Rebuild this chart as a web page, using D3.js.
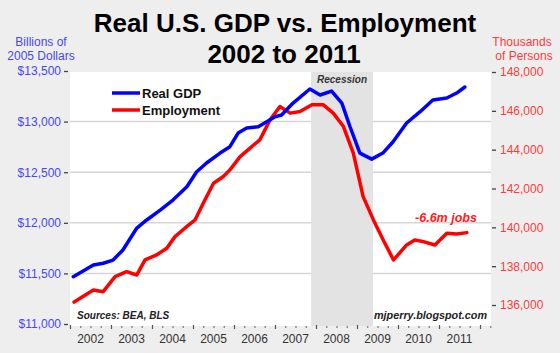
<!DOCTYPE html>
<html>
<head>
<meta charset="utf-8">
<script src="https://cdn.jsdelivr.net/npm/d3@7"></script>
<style>
  html, body { margin: 0; padding: 0; background: #eeeeee; }
  svg { display: block; font-family: "Liberation Sans", Arial, sans-serif; }
</style>
</head>
<body>
<svg id="chart" width="560" height="353"></svg>
<script>
// ---------- DATA ----------
const yearLabels = ["2002","2003","2004","2005","2006","2007","2008","2009","2010","2011"];
const leftTicks  = [11000, 11500, 12000, 12500, 13000, 13500];
const rightTicks = [136000, 138000, 140000, 142000, 144000, 146000, 148000];
const recession  = [2007.88, 2009.39];

const gdpDates = [2002.08,2002.57,2002.81,2003.05,2003.29,2003.63,2003.87,2004.20,2004.51,2004.85,
                  2005.09,2005.33,2005.66,2005.90,2006.10,2006.31,2006.59,2006.80,2007.00,2007.16,
                  2007.44,2007.85,2008.10,2008.38,2008.63,2008.83,2009.07,2009.36,2009.63,2009.88,
                  2010.21,2010.54,2010.85,2011.19,2011.43,2011.63];
const gdpValues = [11467,11583,11600,11632,11731,11948,12028,12126,12225,12357,
                   12505,12591,12689,12752,12887,12936,12949,12999,13048,13065,
                   13183,13322,13263,13302,13183,12949,12689,12629,12689,12801,
                   12986,13098,13213,13233,13282,13342];

const empDates = [2002.10,2002.57,2002.81,2003.10,2003.38,2003.63,2003.83,2004.11,2004.36,2004.56,
                  2004.80,2005.05,2005.25,2005.50,2005.74,2005.90,2006.15,2006.39,2006.63,2006.88,
                  2007.12,2007.37,2007.61,2007.90,2008.18,2008.42,2008.67,2008.91,2009.15,2009.40,
                  2009.64,2009.89,2010.21,2010.41,2010.62,2010.90,2011.19,2011.43,2011.68];
const empValues = [136150,136773,136686,137459,137717,137547,138320,138578,138923,139521,
                   139954,140382,141243,142274,142614,142959,143645,144078,144506,145537,
                   146222,145882,145964,146310,146310,145882,145191,143820,141583,140382,
                   139351,138320,139093,139351,139263,139093,139696,139660,139727];

const seriesNames = ["Real GDP", "Employment"];

// ---------- LAYOUT ----------
const svg = d3.select("#chart");
const plot = { left: 70, right: 491, top: 72, bottom: 326 };

const x  = d3.scaleLinear().domain([2002, 2002 + (plot.right - plot.left) / 41]).range([plot.left, plot.right]);
const yL = d3.scaleLinear().domain([11000, 13500]).range([324, 71]);
const yR = d3.scaleLinear().domain([136000, 148000]).range([305, 72]);

// background
svg.append("rect").attr("width", 560).attr("height", 353).attr("fill", "#eeeeee");
svg.append("rect").attr("x", plot.left).attr("y", plot.top)
   .attr("width", plot.right - plot.left).attr("height", plot.bottom - plot.top)
   .attr("fill", "#ffffff");

// gridlines
svg.append("g").selectAll("line").data(leftTicks.filter(d => d > 11000 && d < 13500)).join("line")
   .attr("x1", plot.left).attr("x2", plot.right)
   .attr("y1", d => yL(d)).attr("y2", d => yL(d))
   .attr("stroke", "#d6d6d6").attr("stroke-width", 1.5);

// recession band
svg.append("rect").attr("x", x(recession[0])).attr("y", plot.top)
   .attr("width", x(recession[1]) - x(recession[0])).attr("height", plot.bottom - plot.top)
   .attr("fill", "#e3e3e3");
svg.append("text").attr("x", (x(recession[0]) + x(recession[1])) / 2).attr("y", 83)
   .attr("text-anchor", "middle").attr("font-size", 10).attr("font-weight", "bold")
   .attr("font-style", "italic").attr("fill", "#333").text("Recession");

// left axis
const leftAxis = svg.append("g").attr("transform", `translate(${plot.left - 2},0)`)
   .call(d3.axisLeft(yL).tickValues(leftTicks).tickFormat(d => "$" + d3.format(",")(d)).tickSize(4).tickPadding(3));
leftAxis.select(".domain").remove();
leftAxis.selectAll("line").attr("stroke", "#444").attr("stroke-width", 1.3);
leftAxis.selectAll("text").attr("fill", "#4646f5").attr("font-size", 12)
   .attr("font-family", "'Liberation Sans', Arial, sans-serif");

// right axis
const rightAxis = svg.append("g").attr("transform", `translate(${plot.right + 1},0)`)
   .call(d3.axisRight(yR).tickValues(rightTicks).tickFormat(d3.format(",")).tickSize(4).tickPadding(4));
rightAxis.select(".domain").remove();
rightAxis.selectAll("line").attr("stroke", "#444").attr("stroke-width", 1.3);
rightAxis.selectAll("text").attr("fill", "#ff3a3a").attr("font-size", 12)
   .attr("font-family", "'Liberation Sans', Arial, sans-serif");

// bottom axis: major ticks at years, minor quarterly
const majors = d3.range(2002, 2013);
const minors = d3.range(2002, 2012.3, 0.25).filter(d => Math.abs(d - Math.round(d)) > 0.01);
const bottomAxis = svg.append("g").attr("transform", `translate(0,${plot.bottom - 1})`);
bottomAxis.call(d3.axisBottom(x).tickValues(majors).tickSize(4).tickFormat(""));
bottomAxis.select(".domain").remove();
bottomAxis.selectAll("line").attr("stroke", "#555").attr("stroke-width", 1.2);
const minorAxis = svg.append("g").attr("transform", `translate(0,${plot.bottom})`);
minorAxis.call(d3.axisBottom(x).tickValues(minors).tickSize(2).tickFormat(""));
minorAxis.select(".domain").remove();
minorAxis.selectAll("line").attr("stroke", "#777").attr("stroke-width", 1.2);

svg.append("g").selectAll("text").data(yearLabels).join("text")
   .attr("x", d => x(+d + 0.5)).attr("y", 343)
   .attr("text-anchor", "middle").attr("font-size", 12).attr("fill", "#333")
   .text(d => d);

// lines
const gdpLine = d3.line().x((d, i) => x(gdpDates[i])).y(d => yL(d)).curve(d3.curveLinear);
const empLine = d3.line().x((d, i) => x(empDates[i])).y(d => yR(d)).curve(d3.curveLinear);

svg.append("path").datum(empValues).attr("d", empLine)
   .attr("fill", "none").attr("stroke", "#ff0000").attr("stroke-width", 3.5)
   .attr("stroke-linejoin", "round").attr("stroke-linecap", "round");
svg.append("path").datum(gdpValues).attr("d", gdpLine)
   .attr("fill", "none").attr("stroke", "#0000ff").attr("stroke-width", 3.5)
   .attr("stroke-linejoin", "round").attr("stroke-linecap", "round");

// legend
const legendColors = ["#0000ff", "#ff0000"];
const legend = svg.append("g");
seriesNames.forEach((name, i) => {
  const ly = 93 + i * 17;
  legend.append("line").attr("x1", 112).attr("x2", 140).attr("y1", ly).attr("y2", ly)
        .attr("stroke", legendColors[i]).attr("stroke-width", 3.5);
  legend.append("text").attr("x", 142).attr("y", ly + 5).attr("font-size", 13)
        .attr("font-weight", "bold").attr("fill", "#111").text(name);
});

// annotations
svg.append("text").attr("x", 446).attr("y", 222).attr("text-anchor", "middle")
   .attr("font-size", 12.5).attr("font-weight", "bold").attr("font-style", "italic")
   .attr("fill", "#ff2020").text("-6.6m jobs");
svg.append("text").attr("x", 77).attr("y", 319).attr("font-size", 10)
   .attr("font-weight", "bold").attr("font-style", "italic").attr("fill", "#222")
   .text("Sources: BEA, BLS");
svg.append("text").attr("x", 487).attr("y", 319).attr("text-anchor", "end").attr("font-size", 10.8)
   .attr("font-weight", "bold").attr("font-style", "italic").attr("fill", "#222")
   .text("mjperry.blogspot.com");

// titles
svg.append("text").attr("x", 285).attr("y", 32).attr("text-anchor", "middle")
   .attr("font-size", 26).attr("font-weight", "bold").attr("fill", "#000")
   .text("Real U.S. GDP vs. Employment");
svg.append("text").attr("x", 284).attr("y", 63).attr("text-anchor", "middle")
   .attr("font-size", 26).attr("font-weight", "bold").attr("fill", "#000")
   .text("2002 to 2011");

// axis titles
const leftTitle = svg.append("text").attr("text-anchor", "middle").attr("font-size", 12).attr("fill", "#4646f5");
leftTitle.append("tspan").attr("x", 41).attr("y", 46).text("Billions of");
leftTitle.append("tspan").attr("x", 41).attr("y", 60).text("2005 Dollars");
const rightTitle = svg.append("text").attr("text-anchor", "middle").attr("font-size", 12).attr("fill", "#ff3a3a");
rightTitle.append("tspan").attr("x", 522).attr("y", 46).text("Thousands");
rightTitle.append("tspan").attr("x", 524).attr("y", 60).text("of Persons");
</script>
</body>
</html>
